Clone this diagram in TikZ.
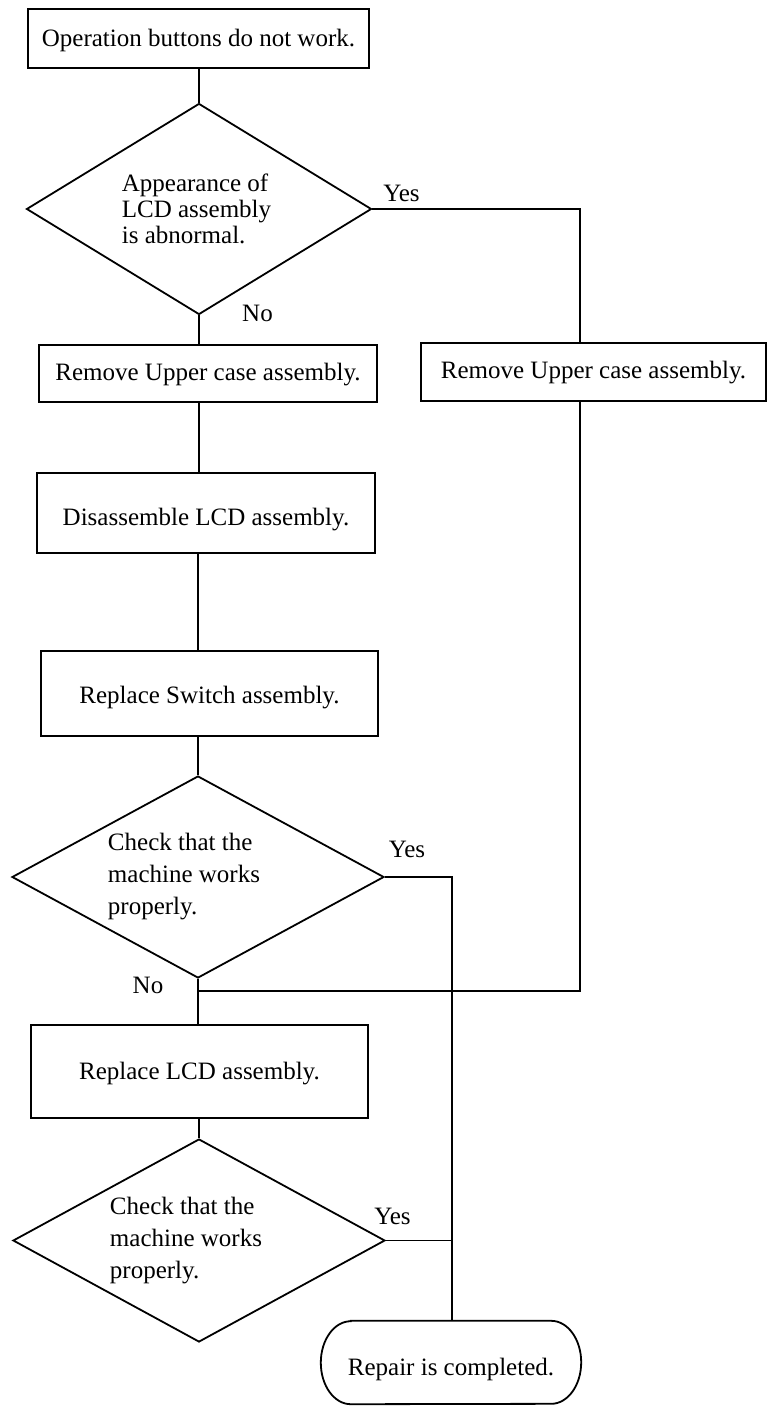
\documentclass[tikz,border=0pt]{standalone}
\usepackage{fontspec}
\setmainfont{Liberation Serif}
\usetikzlibrary{shapes.geometric,calc}
\newcommand\lowr[2]{\raisebox{-#1}[\height][\depth]{#2}}
\begin{document}
\begin{tikzpicture}[x=1pt,y=-1pt,
  every node/.style={font=\fontsize{25}{26}\selectfont},
  box/.style={draw,line width=1.8pt,rectangle,inner sep=0pt},
  dia/.style={draw,line width=1.8pt,diamond,inner sep=0pt},
  dtxt/.style={align=left,inner sep=0pt},
  wide/.style={font=\fontsize{25}{32}\selectfont},
  ln/.style={line width=1.8pt},
  lbl/.style={inner sep=0pt}]
\useasboundingbox (0,0) rectangle (767,1407);

% nodes
\node[box,minimum width=341pt,minimum height=59pt] (b1) at (198.5,38.5) {\lowr{2pt}{Operation buttons do not work.}};
\node[dia,minimum width=345pt,minimum height=211pt,
  label={[dtxt,xshift=-2.5pt,name=d1t]center:Appearance of\\LCD assembly\\is abnormal.}] (d1) at (199,209) {};
\node[box,minimum width=338pt,minimum height=57pt] (b2) at (208,373.5) {\lowr{1pt}{Remove Upper case assembly.}};
\node[box,minimum width=345pt,minimum height=58pt] (b2r) at (593.5,372) {\lowr{1pt}{Remove Upper case assembly.}};
\node[box,minimum width=338pt,minimum height=80pt] (b3) at (206,513) {\lowr{7pt}{Disassemble LCD assembly.}};
\node[box,minimum width=337pt,minimum height=85pt] (b4) at (209.5,693.5) {\lowr{4pt}{Replace Switch assembly.}};
\node[dia,minimum width=372pt,minimum height=202pt,
  label={[dtxt,wide,xshift=-14pt,name=d2t]center:Check that the\\machine works\\properly.}] (d2) at (198,877) {};
\node[box,minimum width=337pt,minimum height=93pt] (b5) at (199.5,1071.5) {\lowr{2pt}{Replace LCD assembly.}};
\node[dia,minimum width=372pt,minimum height=203pt,
  label={[dtxt,wide,xshift=-13pt,name=d3t]center:Check that the\\machine works\\properly.}] (d3) at (199,1240.5) {};
\node[draw=none,minimum width=260pt,minimum height=83pt,inner sep=0pt] (end) at (451,1362.5) {\lowr{7pt}{Repair is completed.}};

% labels
\node[lbl] (y1) at (401.5,193) {Yes};
\node[lbl] (n1) at (257.5,313) {No};
\node[lbl] (y2) at (407,849) {Yes};
\node[lbl] (n2) at (148,985) {No};
\node[lbl] (y3) at (392.5,1216) {Yes};

% terminal outline
\draw[ln] ($(end.north west)+(30,0)$) -- ($(end.north east)+(-30,0)$)
  arc[start angle=-90,end angle=90,x radius=30,y radius=41.5]
  -- ($(end.south west)+(30,0)$)
  arc[start angle=90,end angle=270,x radius=30,y radius=41.5] -- cycle;

% helper coordinates
\coordinate (ya) at (580,209);
\coordinate (jn) at (198,991);
\coordinate (yb) at (452,877);
\coordinate (yc) at (452,1240.5);

% connectors
\draw[ln] (b1.south -| d1.north) -- (d1.north);
\draw[ln] (d1.south) -- (d1.south |- b2.north);
\draw[ln] (b2.south -| d1.south) -- (b3.north -| d1.south);
\draw[ln] (b3.south -| d2.north) -- (b4.north -| d2.north);
\draw[ln] (b4.south -| d2.north) -- (d2.north);
\draw[ln] (d2.south) -- (d2.south |- b5.north);
\draw[ln] (b5.south -| d3.north) -- (d3.north);
\draw[ln] (d1.east) -- (ya) -- (ya |- b2r.north);
\draw[ln] (b2r.south -| ya) -- (ya |- jn) -- (jn);
\draw[ln] (d2.east) -- (yb) -- (yb |- end.north);
\draw[ln] (d3.east) -- (yc);
\end{tikzpicture}
\end{document}
